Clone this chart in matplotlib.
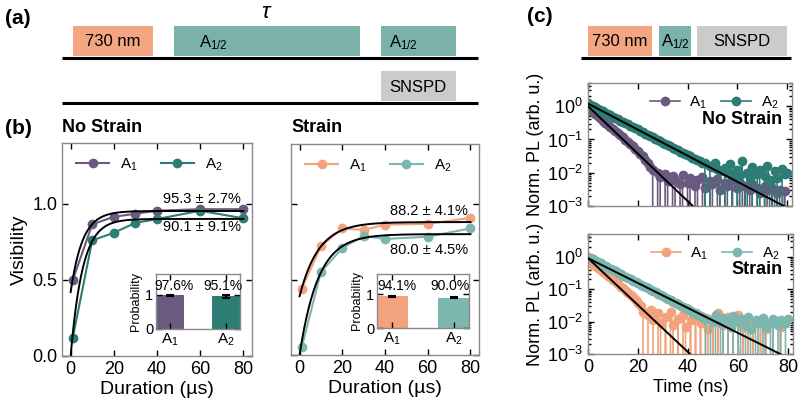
import matplotlib

matplotlib.use("Agg")
import matplotlib.pyplot as plt
import numpy as np
from matplotlib.patches import Rectangle

plt.rcParams["font.family"] = ["Liberation Sans", "DejaVu Sans"]
plt.rcParams["mathtext.fontset"] = "custom"
plt.rcParams["mathtext.rm"] = "Liberation Sans"
plt.rcParams["mathtext.it"] = "Liberation Sans:italic"
plt.rcParams["mathtext.bf"] = "Liberation Sans:bold"

W, H = 807, 403

C_PURPLE = "#6b5a80"
C_TEAL = "#2e7d75"
C_ORANGE = "#f2a27c"
C_LTEAL = "#7db6af"
C_PULSE_OR = "#f3a681"
C_PULSE_TE = "#7ab1aa"
C_PULSE_GR = "#cdcaca"
C_SPINE = "#8a8a8a"

# ---- (b) visibility vs duration ----
duration = [1, 10, 20, 30, 40, 60, 80]
vis_ns_a1 = [0.50, 0.865, 0.915, 0.935, 0.955, 0.965, 0.965]
vis_ns_a2 = [0.12, 0.76, 0.81, 0.875, 0.90, 0.955, 0.905]
vis_s_a1 = [0.44, 0.72, 0.84, 0.83, 0.865, 0.87, 0.91]
vis_s_a2 = [0.05, 0.55, 0.71, 0.79, 0.77, 0.785, 0.84]

# fit parameters: (saturation, value at t=0, time constant in us)
fit_ns_a1 = (0.953, 0.42, 5.5)
fit_ns_a2 = (0.901, 0.0, 5.5)
fit_s_a1 = (0.882, 0.39, 9.0)
fit_s_a2 = (0.802, 0.0, 8.7)

fit_text_ns = ["95.3 ± 2.7%", "90.1 ± 9.1%"]
fit_text_s = ["88.2 ± 4.1%", "80.0 ± 4.5%"]

# inset: readout probability
prob_labels = ["A$_1$", "A$_2$"]
prob_ns = [0.976, 0.951]
prob_ns_err = [0.012, 0.045]
prob_s = [0.941, 0.900]
prob_s_err = [0.02, 0.025]
prob_text_ns = ["97.6%", "95.1%"]
prob_text_s = ["94.1%", "90.0%"]

# ---- (c) time-resolved PL, 1 ns bins ----
time_ns = np.arange(0, 81)
pl_ns_a1 = [
    0.88, 0.76, 0.66, 0.57, 0.50, 0.43, 0.37, 0.32, 0.28, 0.24,
    0.21, 0.18, 0.155, 0.135, 0.115, 0.098, 0.084, 0.072, 0.062, 0.052,
    0.044, 0.037, 0.031, 0.025, 0.020, 0.015, 0.012, 0.0, 0.0095, 0.0075,
    0.0, 0.0090, 0.0055, 0.0, 0.0080, 0.0060, 0.0, 0.0045, 0.0085, 0.0,
    0.0050, 0.0070, 0.0, 0.0040, 0.0060, 0.0, 0.0075, 0.0035, 0.0, 0.0055,
    0.0045, 0.0, 0.0065, 0.0030, 0.0, 0.0050, 0.0040, 0.0, 0.0060, 0.0,
    0.0035, 0.0050, 0.0, 0.0040, 0.0, 0.0030, 0.0045, 0.0, 0.0035, 0.0025,
    0.0, 0.0040, 0.0030, 0.0, 0.0035, 0.0, 0.0025, 0.0030, 0.0, 0.0028,
    0.0,
]
pl_ns_a2 = [
    1.25, 1.10, 1.02, 0.92, 0.85, 0.78, 0.70, 0.64, 0.58, 0.53,
    0.49, 0.45, 0.41, 0.37, 0.34, 0.31, 0.285, 0.26, 0.235, 0.215,
    0.20, 0.18, 0.165, 0.15, 0.138, 0.125, 0.115, 0.105, 0.095, 0.088,
    0.080, 0.074, 0.067, 0.062, 0.056, 0.052, 0.047, 0.043, 0.040, 0.036,
    0.034, 0.031, 0.028, 0.026, 0.024, 0.022, 0.020, 0.019, 0.0, 0.016,
    0.015, 0.020, 0.013, 0.011, 0.0, 0.014, 0.010, 0.018, 0.009, 0.0,
    0.012, 0.0085, 0.022, 0.0, 0.010, 0.007, 0.015, 0.0, 0.009, 0.012,
    0.0, 0.008, 0.016, 0.006, 0.0, 0.011, 0.007, 0.0, 0.013, 0.009,
    0.010,
]
pl_s_a1 = [
    0.75, 0.66, 0.57, 0.50, 0.44, 0.38, 0.33, 0.29, 0.25, 0.22,
    0.19, 0.165, 0.14, 0.12, 0.105, 0.090, 0.078, 0.066, 0.056, 0.046,
    0.038, 0.030, 0.020, 0.0, 0.016, 0.022, 0.011, 0.0, 0.018, 0.009,
    0.0, 0.014, 0.0, 0.020, 0.008, 0.0, 0.012, 0.0, 0.016, 0.007,
    0.0, 0.011, 0.0, 0.015, 0.0, 0.009, 0.0, 0.013, 0.006, 0.0,
    0.012, 0.0, 0.018, 0.0, 0.008, 0.0, 0.014, 0.0, 0.010, 0.0,
    0.016, 0.0, 0.007, 0.0, 0.012, 0.0, 0.009, 0.0, 0.0, 0.011,
    0.0, 0.006, 0.0, 0.0, 0.009, 0.0, 0.0, 0.007, 0.0, 0.0,
    0.0,
]
pl_s_a2 = [
    1.0, 0.90, 0.82, 0.74, 0.68, 0.62, 0.56, 0.51, 0.46, 0.42,
    0.38, 0.35, 0.32, 0.29, 0.26, 0.24, 0.22, 0.20, 0.18, 0.165,
    0.15, 0.138, 0.125, 0.115, 0.105, 0.095, 0.087, 0.079, 0.072, 0.066,
    0.060, 0.055, 0.050, 0.045, 0.041, 0.038, 0.034, 0.031, 0.028, 0.026,
    0.024, 0.021, 0.019, 0.018, 0.016, 0.015, 0.013, 0.012, 0.0, 0.011,
    0.010, 0.016, 0.0, 0.009, 0.013, 0.0, 0.011, 0.007, 0.015, 0.0,
    0.010, 0.012, 0.0, 0.008, 0.014, 0.006, 0.0, 0.011, 0.009, 0.0,
    0.013, 0.007, 0.0, 0.010, 0.012, 0.0, 0.008, 0.011, 0.0, 0.009,
    0.012,
]
# exponential fits: (amplitude, lifetime in ns)
pl_fit_ns_a1 = (1.0, 6.1)
pl_fit_ns_a2 = (1.2, 11.1)
pl_fit_s_a1 = (0.9, 6.0)
pl_fit_s_a2 = (0.9, 11.3)

# ---- pulse sequences (pixel layout of the schematics) ----
seq_a_labels = ["730 nm", "A$_{1/2}$", "A$_{1/2}$", "SNSPD"]
seq_a_x = [(73, 153), (174, 360), (381, 456), (381, 456)]
seq_a_text_x = [113, 199, 389, 418]
seq_a_align = ["center", "left", "left", "center"]
seq_a_row = [0, 0, 0, 1]
seq_a_colors = [C_PULSE_OR, C_PULSE_TE, C_PULSE_TE, C_PULSE_GR]
seq_c_labels = ["730 nm", "A$_{1/2}$", "SNSPD"]
seq_c_x = [(588, 652), (659, 691), (697, 787)]
seq_c_colors = [C_PULSE_OR, C_PULSE_TE, C_PULSE_GR]


def px_axes(x0, y0, x1, y1):
    return fig.add_axes([x0 / W, 1 - y1 / H, (x1 - x0) / W, (y1 - y0) / H])


def style(ax, labelsize=13):
    for s in ax.spines.values():
        s.set_color(C_SPINE)
        s.set_linewidth(1.0)
    ax.tick_params(which="both", direction="in", top=True, right=True,
                   labelsize=labelsize, width=1.0)
    ax.tick_params(which="major", length=4)
    ax.tick_params(which="minor", length=2)


fig = plt.figure(figsize=(W / 100, H / 100), dpi=100)

# overlay for schematics and panel labels
ov = fig.add_axes([0, 0, 1, 1])
ov.set_xlim(0, W)
ov.set_ylim(H, 0)
ov.axis("off")

row_y = [(26, 56), (71, 101)]
for lab, (x0, x1), tx, al, r, c in zip(seq_a_labels, seq_a_x, seq_a_text_x,
                                       seq_a_align, seq_a_row, seq_a_colors):
    y0, y1 = row_y[r]
    ov.add_patch(Rectangle((x0, y0), x1 - x0, y1 - y0, color=c, lw=0))
    dy = 2 if lab.startswith("A") else 1
    ov.text(tx, (y0 + y1) / 2 + dy, lab, fontsize=12, ha=al, va="center")
ov.plot([62, 478], [57.5, 57.5], color="black", lw=2.2, solid_capstyle="butt")
ov.plot([62, 478], [102.5, 102.5], color="black", lw=2.2, solid_capstyle="butt")
ov.text(267, 12, r"$\tau$", fontsize=16, ha="center", va="center")

for lab, (x0, x1), c in zip(seq_c_labels, seq_c_x, seq_c_colors):
    ov.add_patch(Rectangle((x0, 26), x1 - x0, 30, color=c, lw=0))
    ov.text((x0 + x1) / 2, 42, lab, fontsize=12, ha="center", va="center")
ov.plot([581, 791], [57.5, 57.5], color="black", lw=2.2, solid_capstyle="butt")

ov.text(5, 18, "(a)", fontsize=15, fontweight="bold", va="center")
ov.text(5, 128, "(b)", fontsize=15, fontweight="bold", va="center")
ov.text(527, 17, "(c)", fontsize=15, fontweight="bold", va="center")
ov.text(62, 128, "No Strain", fontsize=13, fontweight="bold", va="center")
ov.text(291, 128, "Strain", fontsize=13, fontweight="bold", va="center")

# ---- (b) panels ----
xfit = np.linspace(0, 80, 300)


def fit_curve(p):
    sat, start, tau = p
    return sat - (sat - start) * np.exp(-xfit / tau)


def vis_panel(box, inset_box, v1, v2, f1, f2, c1, c2, texts, text_y,
              probs, errs, ptexts, show_ylabels):
    ax = px_axes(*box)
    ax.plot(duration, v1, "-o", color=c1, lw=1.5, ms=6, label="A$_1$")
    ax.plot(duration, v2, "-o", color=c2, lw=1.5, ms=6, label="A$_2$")
    ax.plot(xfit, fit_curve(f1), color="black", lw=1.4)
    ax.plot(xfit, fit_curve(f2), color="black", lw=1.4)
    ax.set_xlim(-4, 84)
    ax.set_ylim(0, 1.4)
    ax.set_xticks([0, 20, 40, 60, 80])
    ax.set_yticks([0, 0.5, 1.0])
    style(ax)
    if show_ylabels:
        ax.set_ylabel("Visibility", fontsize=14, labelpad=3)
    else:
        ax.set_yticklabels([])
    ax.set_xlabel("Duration (µs)", fontsize=14, labelpad=2)
    for t, y in zip(texts, text_y):
        ax.text(79, y, t, fontsize=10.5, ha="right", va="center")
    ax.legend(loc="upper left", ncol=2, frameon=False, fontsize=11,
              handlelength=2.2, columnspacing=1.5, handletextpad=0.7,
              bbox_to_anchor=(0.0, 1.0))

    ins = px_axes(*inset_box)
    ins.bar([0, 1], probs, width=0.5, color=[c1, c2], yerr=errs,
            error_kw=dict(ecolor="black", elinewidth=1.5, capsize=3, capthick=1.5))
    ins.set_xlim(-0.25, 1.25)
    ins.set_ylim(0, 1.6)
    ins.set_xticks([0, 1])
    ins.set_xticklabels(prob_labels)
    ins.set_yticks([0, 1])
    style(ins, labelsize=10.5)
    ins.tick_params(axis="x", labelsize=11, pad=2)
    ins.tick_params(axis="y", pad=2)
    ins.set_ylabel("Probability", fontsize=9, labelpad=2)
    for i, t in enumerate(ptexts):
        ins.text(i + (0.08 if i == 0 else -0.06), 1.04, t, fontsize=10,
                 ha="center", va="bottom")
    return ax


vis_panel((62, 143, 252, 356), (156, 274, 240, 329), vis_ns_a1, vis_ns_a2,
          fit_ns_a1, fit_ns_a2, C_PURPLE, C_TEAL, fit_text_ns, [1.03, 0.85],
          prob_ns, prob_ns_err, prob_text_ns, True)
vis_panel((291, 144, 479, 355), (377, 274, 469, 328), vis_s_a1, vis_s_a2,
          fit_s_a1, fit_s_a2, C_ORANGE, C_LTEAL, fit_text_s, [0.955, 0.695],
          prob_s, prob_s_err, prob_text_s, False)

# ---- (c) panels ----
tfit = np.linspace(0, 80, 300)


def pl_panel(box, d1, d2, f1, f2, c1, c2, title, show_xlabels):
    ax = px_axes(*box)
    ax.plot(time_ns, d1, "-o", color=c1, lw=1.2, ms=6, label="A$_1$", zorder=2)
    ax.plot(time_ns, d2, "-o", color=c2, lw=1.2, ms=6, label="A$_2$", zorder=2)
    for a, tau in (f1, f2):
        ax.plot(tfit, a * np.exp(-tfit / tau), color="black", lw=1.4, zorder=3)
    ax.set_yscale("log")
    ax.set_ylim(1e-3, 5)
    ax.set_xlim(0, 82)
    ax.set_xticks([0, 20, 40, 60, 80])
    style(ax)
    ax.set_ylabel("Norm. PL (arb. u.)", fontsize=13, labelpad=2)
    if show_xlabels:
        ax.set_xlabel("Time (ns)", fontsize=13, labelpad=2)
    else:
        ax.set_xticklabels([])
    ax.legend(loc="upper right", ncol=2, frameon=False, fontsize=11,
              handlelength=2.0, columnspacing=0.9, handletextpad=0.6,
              bbox_to_anchor=(1.0, 1.02))
    ax.text(0.95, 0.70, title, transform=ax.transAxes, fontsize=13,
            fontweight="bold", ha="right", va="center")
    return ax


pl_panel((588, 83, 792, 206), pl_ns_a1, pl_ns_a2, pl_fit_ns_a1, pl_fit_ns_a2,
         C_PURPLE, C_TEAL, "No Strain", False)
pl_panel((588, 234, 793, 354), pl_s_a1, pl_s_a2, pl_fit_s_a1, pl_fit_s_a2,
         C_ORANGE, C_LTEAL, "Strain", True)

fig.savefig("out.png", dpi=100)
